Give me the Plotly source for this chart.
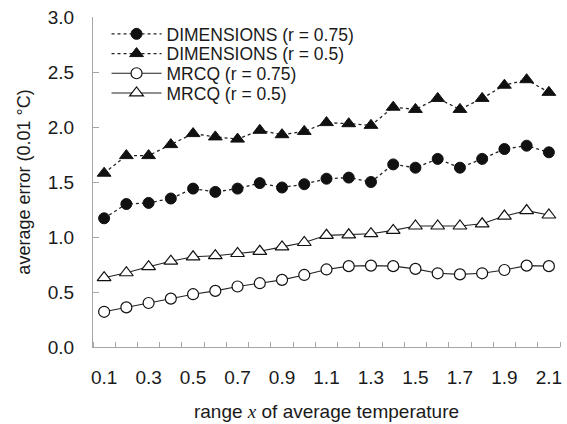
import plotly.graph_objects as go

x_vals = [round(0.1 * i, 1) for i in range(1, 22)]

dim_075 = [1.17, 1.30, 1.31, 1.35, 1.44, 1.41, 1.44, 1.49, 1.45, 1.48, 1.53,
           1.54, 1.50, 1.66, 1.63, 1.71, 1.63, 1.71, 1.80, 1.83, 1.77]
dim_05 = [1.58, 1.74, 1.74, 1.84, 1.94, 1.91, 1.89, 1.97, 1.93, 1.96, 2.04,
          2.03, 2.015, 2.18, 2.16, 2.26, 2.16, 2.26, 2.38, 2.43, 2.315]
mrcq_075 = [0.32, 0.36, 0.40, 0.44, 0.48, 0.51, 0.55, 0.58, 0.61, 0.655, 0.705,
            0.735, 0.74, 0.735, 0.71, 0.67, 0.66, 0.67, 0.70, 0.74, 0.735]
mrcq_05 = [0.63, 0.675, 0.73, 0.78, 0.82, 0.83, 0.85, 0.87, 0.91, 0.95, 1.015,
           1.02, 1.03, 1.06, 1.10, 1.10, 1.10, 1.12, 1.19, 1.24, 1.20]

names = ["DIMENSIONS (r = 0.75)", "DIMENSIONS (r = 0.5)", "MRCQ (r = 0.75)", "MRCQ (r = 0.5)"]
x_label_vals = [0.1, 0.3, 0.5, 0.7, 0.9, 1.1, 1.3, 1.5, 1.7, 1.9, 2.1]
x_label_text = ["0.1", "0.3", "0.5", "0.7", "0.9", "1.1", "1.3", "1.5", "1.7", "1.9", "2.1"]
y_tick_vals = [0.0, 0.5, 1.0, 1.5, 2.0, 2.5, 3.0]

FONT = "Liberation Sans, Arial, sans-serif"
LINE = "#222222"
AXIS = "#a6a6a6"

legend_ids = ["legend", "legend2", "legend3", "legend4"]
legend_rows_y = [0.9485, 0.8888, 0.8291, 0.7694]

fig = go.Figure()
fig.add_trace(go.Scatter(x=x_vals, y=dim_075, name=names[0], mode="lines+markers",
                         legend=legend_ids[0],
                         line=dict(color=LINE, width=1.3, dash="dot"),
                         marker=dict(symbol="circle", size=11, color="#111111",
                                     line=dict(color="#111111", width=1))))
fig.add_trace(go.Scatter(x=x_vals, y=dim_05, name=names[1], mode="lines+markers",
                         legend=legend_ids[1],
                         line=dict(color=LINE, width=1.3, dash="dot"),
                         marker=dict(symbol="triangle-up", size=12, color="#111111",
                                     line=dict(color="#111111", width=1))))
fig.add_trace(go.Scatter(x=x_vals, y=mrcq_075, name=names[2], mode="lines+markers",
                         legend=legend_ids[2],
                         line=dict(color=LINE, width=1.1),
                         marker=dict(symbol="circle", size=11, color="white",
                                     line=dict(color="#111111", width=1.2))))
fig.add_trace(go.Scatter(x=x_vals, y=mrcq_05, name=names[3], mode="lines+markers",
                         legend=legend_ids[3],
                         line=dict(color=LINE, width=1.1),
                         marker=dict(symbol="triangle-up", size=12, color="white",
                                     line=dict(color="#111111", width=1.2))))

legend_common = dict(x=0.029, xanchor="left", yanchor="middle",
                     bgcolor="rgba(0,0,0,0)", font=dict(size=17.5),
                     itemwidth=50)

fig.update_layout(
    width=567, height=424,
    margin=dict(l=93, r=5, t=17, b=77),
    paper_bgcolor="white", plot_bgcolor="white",
    font=dict(family=FONT, size=19, color="#1a1a1a"),
    showlegend=True,
    legend=dict(y=legend_rows_y[0], **legend_common),
    legend2=dict(y=legend_rows_y[1], **legend_common),
    legend3=dict(y=legend_rows_y[2], **legend_common),
    legend4=dict(y=legend_rows_y[3], **legend_common),
    xaxis=dict(range=[0.05, 2.15], showgrid=False, zeroline=False,
               showline=True, linecolor=AXIS, linewidth=1,
               tickmode="array", tickvals=x_label_vals, ticktext=x_label_text,
               ticks="", ticklabelstandoff=13,
               minor=dict(ticks="inside", ticklen=5, tickcolor=AXIS,
                          tick0=0.05, dtick=0.1, showgrid=False),
               title=dict(text="range <span style='font-family:Liberation Serif'><i>x</i></span> of average temperature",
                          font=dict(size=19), standoff=17)),
    yaxis=dict(range=[0, 3.0], showgrid=False, zeroline=False,
               showline=True, linecolor=AXIS, linewidth=1,
               tickmode="array", tickvals=y_tick_vals,
               ticktext=[f"{v:.1f}" for v in y_tick_vals],
               ticks="inside", ticklen=6, tickcolor=AXIS, ticklabelstandoff=14,
               title=dict(text="average error (0.01 °C)", font=dict(size=18), standoff=12)),
)

fig.write_html("out.html")
